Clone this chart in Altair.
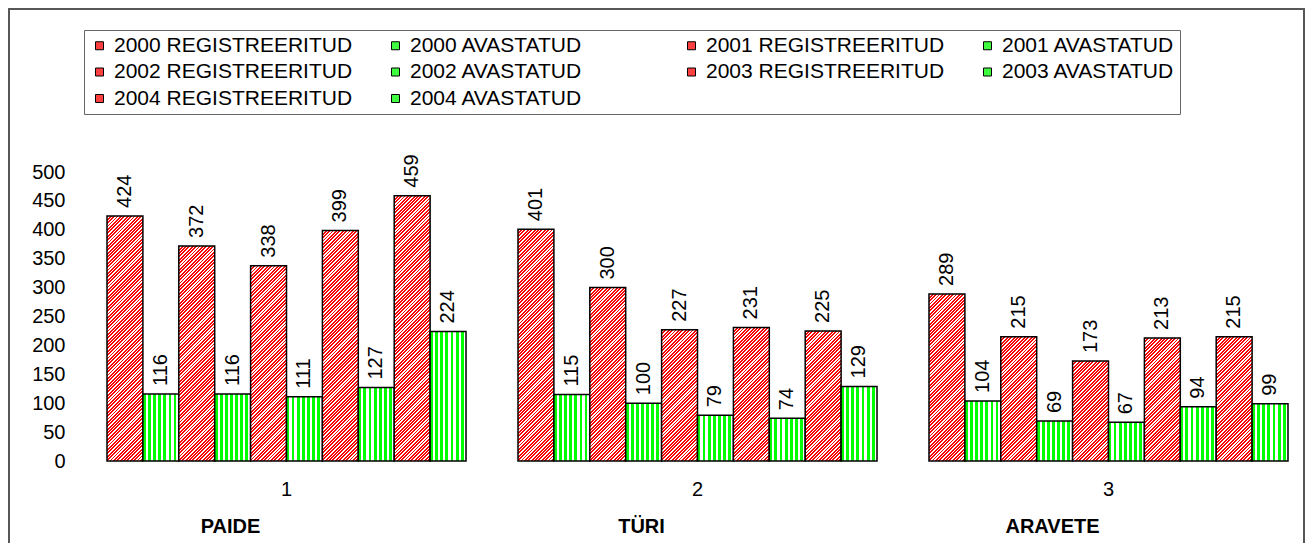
import altair as alt

# ---------------- data ----------------
groups = ["1", "2", "3"]
towns = ["PAIDE", "TÜRI", "ARAVETE"]
years = ["2000", "2001", "2002", "2003", "2004"]

paide_registered = [424, 372, 338, 399, 459]
paide_detected = [116, 116, 111, 127, 224]
tyri_registered = [401, 300, 227, 231, 225]
tyri_detected = [115, 100, 79, 74, 129]
aravete_registered = [289, 215, 173, 213, 215]
aravete_detected = [104, 69, 67, 94, 99]

y_ticks = [0, 50, 100, 150, 200, 250, 300, 350, 400, 450, 500]

registered = [paide_registered, tyri_registered, aravete_registered]
detected = [paide_detected, tyri_detected, aravete_detected]

# ---------------- styling / layout ----------------
FONT = "Liberation Sans"
RED = "#FF0000"
GREEN = "#00FF00"
W, H = 1205, 289
PI, PO = 0.1265, 0.0292
YMAX = 500
STEP = W / (len(groups) - PI + 2 * PO)
BAR_W = STEP * (1 - PI) / (2 * len(years))


def hatch_red(v):
    """Diagonal red/white hatch as a bounding-box linear gradient."""
    w = BAR_W
    h = max(v * H / YMAX, 1.0)
    a = (w + h) / (w * w + h * h)
    n = max(1, round((w + h) / 3.4))
    stops = []
    for k in range(n):
        s, m, e = k / n, (k + 0.55) / n, (k + 1) / n
        stops += [
            {"offset": round(s, 5), "color": RED},
            {"offset": round(m, 5), "color": RED},
            {"offset": round(m, 5), "color": "#FFFFFF"},
            {"offset": round(e, 5), "color": "#FFFFFF"},
        ]
    return {"gradient": "linear", "x1": 0, "y1": 0,
            "x2": round(w * a, 6), "y2": round(h * a, 6), "stops": stops}


def stripe_green():
    n = 7
    stops = []
    for k in range(n):
        s, m, e = k / n, (k + 0.55) / n, (k + 1) / n
        stops += [
            {"offset": round(s, 5), "color": GREEN},
            {"offset": round(m, 5), "color": GREEN},
            {"offset": round(m, 5), "color": "#FFFFFF"},
            {"offset": round(e, 5), "color": "#FFFFFF"},
        ]
    return {"gradient": "linear", "x1": 0, "y1": 0, "x2": 1, "y2": 0, "stops": stops}


series_order = []
legend_colors = []
for yr in years:
    series_order += [f"{yr} REGISTREERITUD", f"{yr} AVASTATUD"]
    legend_colors += ["#FF4040", "#40FF40"]

rows = []
green_fill = stripe_green()
for gi, g in enumerate(groups):
    for yi, yr in enumerate(years):
        rv = registered[gi][yi]
        dv = detected[gi][yi]
        rows.append({"group": g, "series": f"{yr} REGISTREERITUD", "value": rv,
                     "pattern": hatch_red(rv)})
        rows.append({"group": g, "series": f"{yr} AVASTATUD", "value": dv,
                     "pattern": green_fill})

data = alt.Data(values=rows)
town_data = alt.Data(values=[{"group": g, "town": t} for g, t in zip(groups, towns)])

x_enc = alt.X(
    "group:N",
    scale=alt.Scale(domain=groups, paddingInner=PI, paddingOuter=PO),
    axis=alt.Axis(domain=False, ticks=False, tickSize=0, grid=False, labelAngle=0,
                  labelPadding=18, labelFont=FONT, labelFontSize=20, labelColor="black"),
    title=None,
)
xo_enc = alt.XOffset("series:N", scale=alt.Scale(domain=series_order, paddingInner=0, paddingOuter=0))
y_enc = alt.Y(
    "value:Q",
    stack=None,
    scale=alt.Scale(domain=[0, YMAX], nice=False, zero=True),
    axis=alt.Axis(values=y_ticks, domain=False, ticks=False, tickSize=0, grid=False,
                  labelPadding=30, labelFont=FONT, labelFontSize=20, labelColor="black"),
    title=None,
)

bars = alt.Chart(data).mark_bar(stroke="black", strokeWidth=1.5).encode(
    x=x_enc,
    xOffset=xo_enc,
    y=y_enc,
    fill=alt.Fill("pattern:N", scale=None, legend=None),
)

value_labels = alt.Chart(data).mark_text(
    angle=270, align="left", baseline="middle", dx=8,
    font=FONT, fontSize=20, color="black",
).encode(x=x_enc, xOffset=xo_enc, y=y_enc, text="value:Q")

town_labels = alt.Chart(town_data).mark_text(
    baseline="middle", align="center", dx=-56,
    font=FONT, fontSize=20, fontWeight="bold", color="black",
).encode(x=x_enc, y=alt.value(H + 66), text="town:N")

legend_layer = alt.Chart(data).transform_filter("datum.value < 0").mark_square(
    size=64, stroke="black", strokeWidth=1, opacity=1
).encode(
    color=alt.Color(
        "series:N",
        scale=alt.Scale(domain=series_order, range=legend_colors),
        legend=alt.Legend(
            title=None, orient="none", legendX=-11, legendY=-142,
            direction="horizontal",
            columns=4, gridAlign="all", columnPadding=32, rowPadding=4.5,
            symbolType="square", symbolSize=64, symbolStrokeColor="black",
            symbolStrokeWidth=1, symbolOpacity=1,
            labelFont=FONT, labelFontSize=21, labelColor="black",
            labelOffset=4, labelLimit=400,
            strokeColor="#666666", padding=5,
        ),
    )
)

frame = alt.Chart(town_data).mark_rect(
    fillOpacity=0, stroke="#555555", strokeWidth=1.5
).encode(
    x=alt.value(-86), x2=alt.value(W + 4), y=alt.value(-163), y2=alt.value(H + 300)
)

chart = alt.layer(frame, bars, value_labels, town_labels, legend_layer).properties(
    width=W, height=H,
    autosize=alt.AutoSizeParams(type="none"),
    padding={"left": 87, "top": 164, "right": 5, "bottom": 82},
    background="white",
).configure_view(stroke=None)

chart.save("out.html", embed_options={"renderer": "svg", "actions": False})
